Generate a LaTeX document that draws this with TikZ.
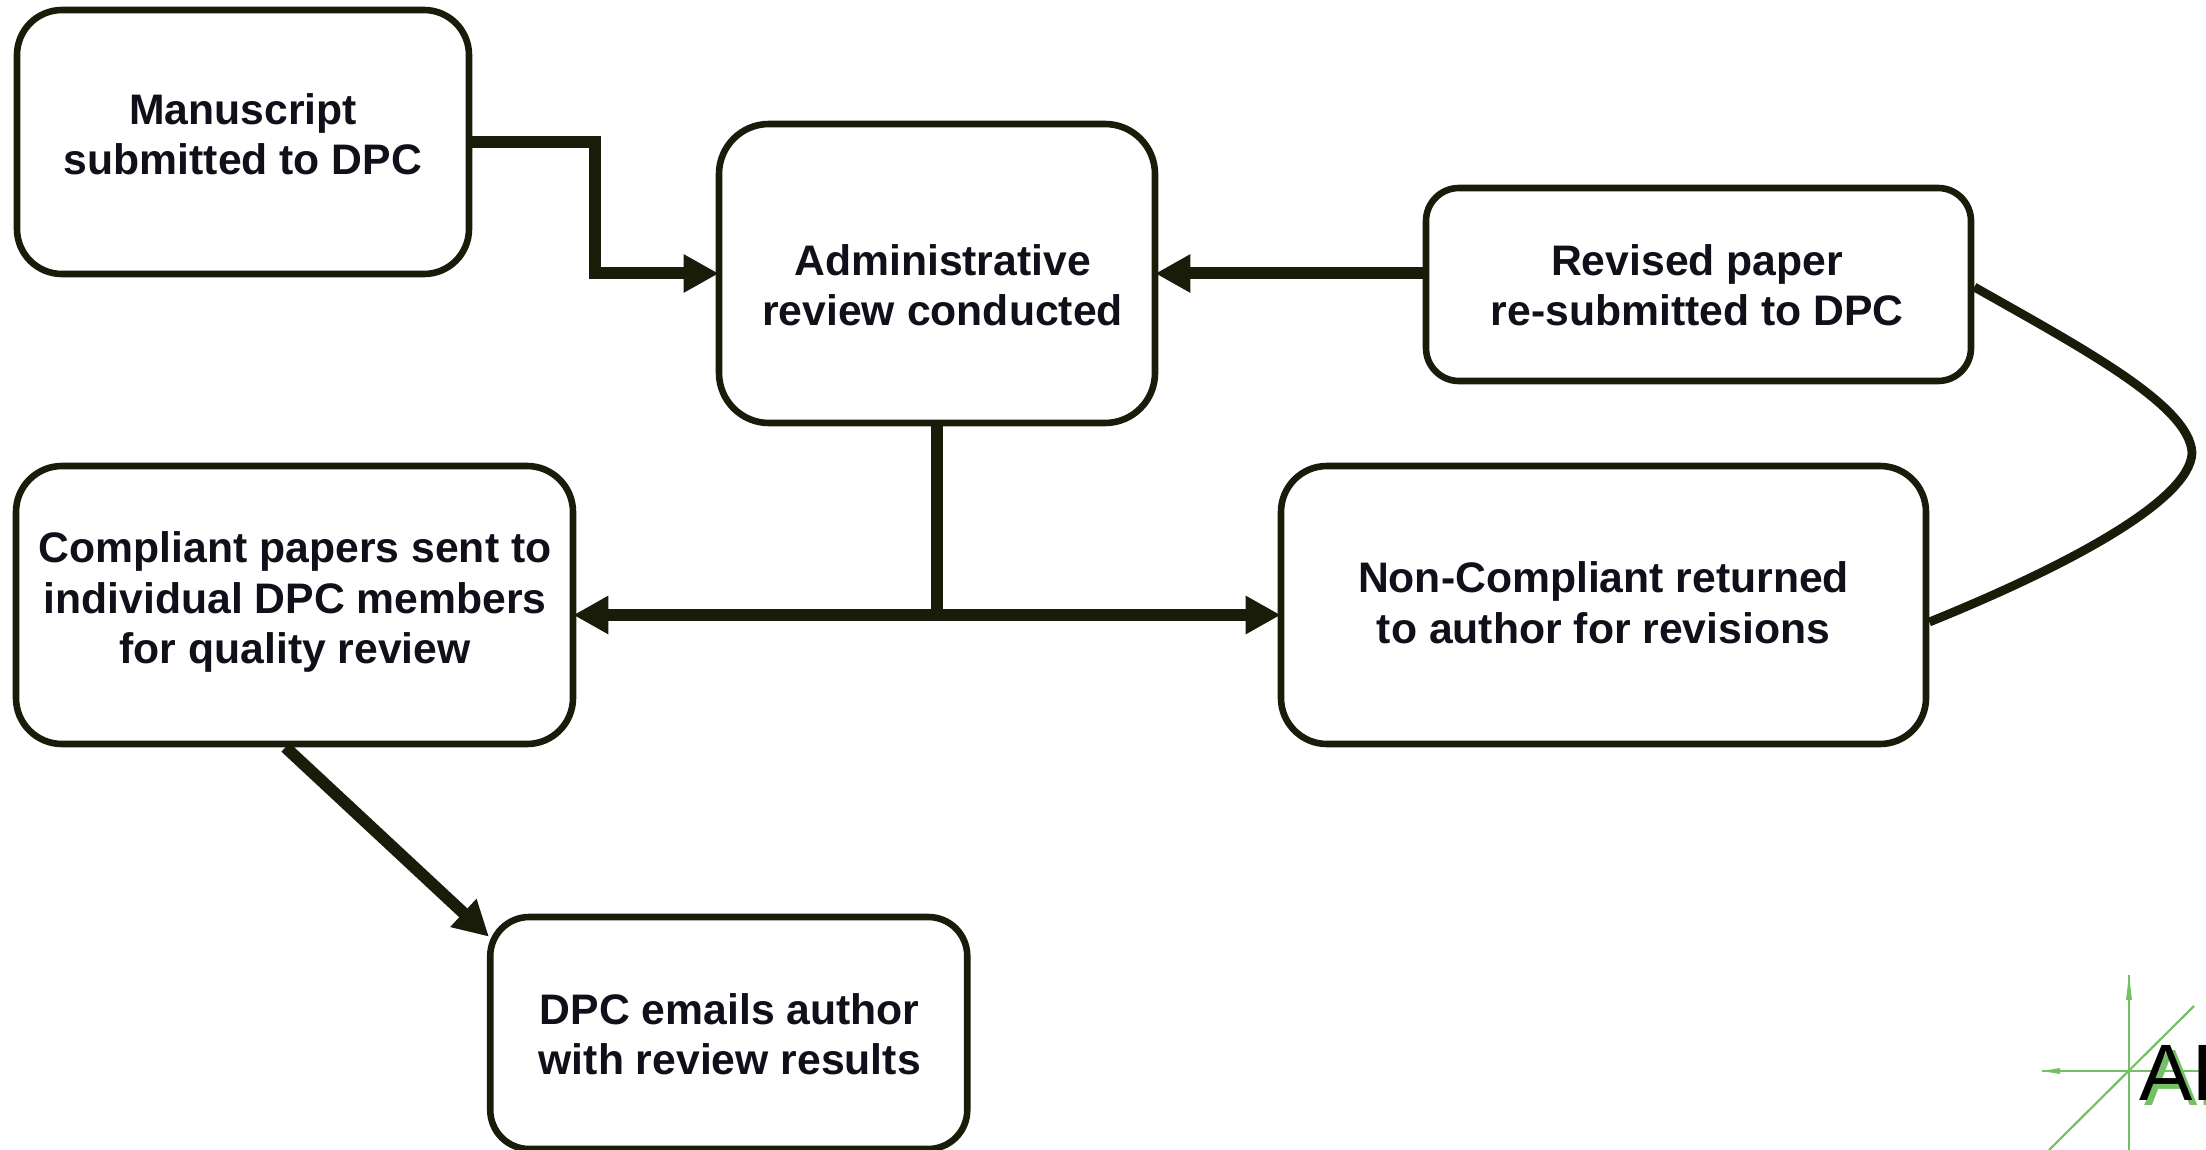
\documentclass[tikz,border=0pt]{standalone}
\usepackage{fontspec}
\setmainfont{Liberation Sans}
\usetikzlibrary{arrows.meta,calc}
\definecolor{ink}{HTML}{1A1C0A}
\definecolor{txt}{HTML}{10101A}
\definecolor{logogreen}{HTML}{74C064}
\newcommand\tx[2]{\raisebox{#1}[0pt][0pt]{\renewcommand\arraystretch{1}\begin{tabular}{@{}c@{}}#2\end{tabular}}}
\tikzset{
  bx/.style={draw=ink,line width=3.3pt,fill=white,text=txt,font=\fontsize{21.35}{25.2}\selectfont\bfseries,inner sep=0pt},
  conn/.style={draw=ink,line width=6pt},
  tipped/.style={conn,shorten >=-1.5pt,-{Triangle[length=17.5pt,width=18pt,fill=ink]}},
  curveline/.style={draw=ink,line width=4.4pt},
  logoline/.style={draw=logogreen,line width=1.1pt},
}
\begin{document}
\begin{tikzpicture}[x=0.5pt,y=-0.5pt]
\useasboundingbox (0,0) rectangle (2206,1150);
\begin{scope}
\clip (0,0) rectangle (2206,1150);
% logo
\draw[logoline] (2129,975) -- (2129,1150);
\draw[logoline] (2042,1071) -- (2206,1071);
\draw[logoline] (2194,1006) -- (2049,1150);
\fill[logogreen] (2129,975) -- (2132,1000) -- (2126,1000) -- cycle;
\fill[logogreen] (2042,1071) -- (2060,1068) -- (2060,1074) -- cycle;
\node[anchor=base west,inner sep=0pt,text=logogreen,font=\fontsize{40}{40}\selectfont] (logoshadow) at (2144,1105) {AD};
\node[anchor=base west,inner sep=0pt,text=black,font=\fontsize{40}{40}\selectfont] (logotext) at (2139,1100) {AD};
% boxes
\node[bx,rounded corners=22.5pt,minimum width=226pt,minimum height=132pt] (A) at (243,142) {\tx{-3.9pt}{Manuscript\\submitted to DPC}};
\node[bx,rounded corners=25pt,minimum width=218pt,minimum height=149.5pt] (B) at (937,273.5) {\hspace*{5.6pt}\tx{-13.6pt}{Administrative\\review conducted}};
\node[bx,rounded corners=16.5pt,minimum width=272.5pt,minimum height=96.5pt] (C) at (1698.5,284.5) {\tx{-8.1pt}{Revised paper\\re-submitted to DPC}\hspace*{1.4pt}};
\node[bx,rounded corners=23pt,minimum width=278.5pt,minimum height=139pt] (D) at (294.5,605) {\hspace*{0.7pt}\tx{-4.2pt}{Compliant papers sent to\\individual DPC members\\for quality review}};
\node[bx,rounded corners=23pt,minimum width=322.5pt,minimum height=139pt] (E) at (1603.5,605) {\tx{-6.6pt}{Non-Compliant returned\\to author for revisions}};
\node[bx,rounded corners=19.5pt,minimum width=238.5pt,minimum height=116pt] (F) at (728.75,1033) {\hspace*{1pt}\tx{-8.5pt}{DPC emails author\\with review results}};
% connectors
\coordinate (J) at (937,615);
\draw[tipped] (A.east) -- ++(123,0) |- (B.west);
\draw[tipped] (C.west |- B.east) -- (B.east);
\draw[conn] (B.south) -- (J);
\draw[tipped] (J) -- (D.east |- J);
\draw[tipped] (J) -- (E.west |- J);
\draw[tipped,shorten >=0pt] ($(D.south)+(-9,0)$) -- ($(F.north west)+(2,23)$);
\draw[curveline] (C.east |- 0,287) .. controls (2080,347) and (2190,405) .. (2192,453) .. controls (2190,500) and (2070,565) .. (E.east |- 0,622);
\end{scope}
\end{tikzpicture}
\end{document}
